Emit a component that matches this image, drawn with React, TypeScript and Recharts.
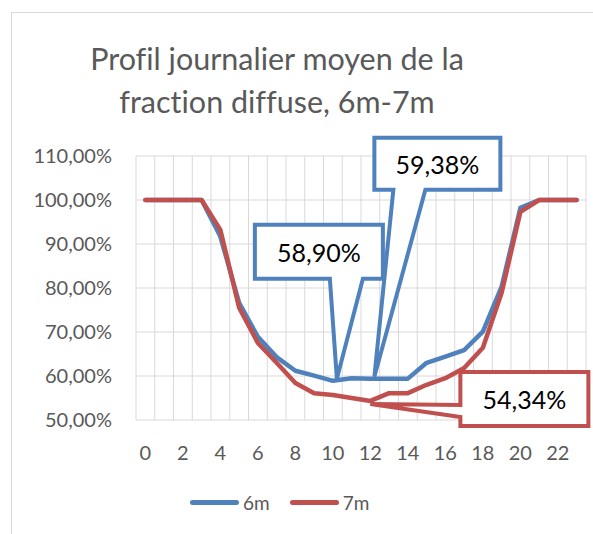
import { LineChart, Line, XAxis, YAxis, CartesianGrid, ReferenceLine, LabelList } from "recharts"

const hours = [0, 1, 2, 3, 4, 5, 6, 7, 8, 9, 10, 11, 12, 13, 14, 15, 16, 17, 18, 19, 20, 21, 22, 23]
const serie6m = [100, 100, 100, 100, 91.7, 76.6, 68.9, 64.3, 61.2, 60.1, 58.9, 59.5, 59.38, 59.4, 59.4, 63, 64.4, 65.9, 70.1, 80.3, 98.2, 100, 100, 100]
const serie7m = [100, 100, 100, 100, 93.2, 75.5, 67.5, 63, 58.4, 56.1, 55.7, 55, 54.34, 56.1, 56.1, 58, 59.5, 61.8, 66.4, 78.9, 97.3, 100, 100, 100]
const xTicks = [0, 2, 4, 6, 8, 10, 12, 14, 16, 18, 20, 22]
const yTicks = [50, 60, 70, 80, 90, 100, 110]
const seriesNames = ["6m", "7m"]
const seriesColors = ["#4F81BD", "#C0504D"]

const data = hours.map((h, i) => ({ hour: h, s6: serie6m[i], s7: serie7m[i] }))
// category boundaries for the vertical gridlines
const boundaries = [...hours.map((h) => h - 0.5), hours[hours.length - 1] + 0.5]

const FONT = "Lato, 'Open Sans', sans-serif"
const GREY = "#595959"

const fmt = (v: number) => `${v.toFixed(2).replace(".", ",")}%`

type Callout = {
  index: number
  box: [number, number, number, number] // x0, y0, x1, y1 relative to point
  base: [number, number]
  side: "bottom" | "left"
  tip: [number, number]
}

const callouts6m: Callout[] = [
  { index: 10, box: [-78, -156, 50, -102], base: [-3, 30], side: "bottom", tip: [4, -2] },
  { index: 12, box: [4, -241, 130, -189], base: [23, 55], side: "bottom", tip: [4, -2] },
]
const callouts7m: Callout[] = [
  { index: 12, box: [90, -29, 218, 25], base: [4, 16], side: "left", tip: [0, 3] },
]

function makeCallout(specs: Callout[], color: string) {
  return (props: any) => {
    const { x, y, index, value } = props
    const c = specs.find((s) => s.index === index)
    if (!c) return null
    const [x0, y0, x1, y1] = c.box.map((v, i) => (i % 2 === 0 ? x + v : y + v))
    const tx = x + c.tip[0]
    const ty = y + c.tip[1]
    let d = ""
    if (c.side === "bottom") {
      d = `M${x0},${y0} H${x1} V${y1} H${x + c.base[1]} L${tx},${ty} L${x + c.base[0]},${y1} H${x0} Z`
    } else {
      d = `M${x0},${y0} H${x1} V${y1} H${x0} V${y + c.base[1]} L${tx},${ty} L${x0},${y + c.base[0]} Z`
    }
    return (
      <g>
        <path d={d} fill="#fff" stroke={color} strokeWidth={4} strokeLinejoin="miter" />
        <text
          x={(x0 + x1) / 2}
          y={(y0 + y1) / 2}
          textAnchor="middle"
          dominantBaseline="central"
          fontFamily={FONT}
          fontSize={25}
          fill="#000"
        >
          {fmt(Number(value))}
        </text>
      </g>
    )
  }
}

export default function App() {
  return (
    <div style={{ position: "absolute", left: 0, top: 0, width: 593, height: 534, overflow: "hidden", background: "#fff" }}>
      <div
        style={{
          position: "absolute",
          left: 11,
          top: 12,
          width: 700,
          height: 700,
          border: "1px solid #d9d9d9",
        }}
      />
      <div
        style={{
          position: "absolute",
          left: 0,
          top: 37,
          width: 554,
          textAlign: "center",
          fontFamily: FONT,
          fontSize: 30.5,
          lineHeight: "43px",
          color: GREY,
          fontVariantLigatures: "none",
        }}
      >
        Profil journalier moyen de la
        <br />
        fraction diffuse, 6m-7m
      </div>
      <LineChart width={593} height={534} data={data} margin={{ top: 156, right: 7, bottom: 74, left: 0 }} style={{ position: "absolute", left: 0, top: 0 }}>
        <CartesianGrid vertical={false} stroke="#d9d9d9" strokeWidth={1} />
        {boundaries.map((b) => (
          <ReferenceLine key={b} x={b} stroke="#d9d9d9" strokeWidth={1} ifOverflow="visible" />
        ))}
        <XAxis
          dataKey="hour"
          type="number"
          domain={[-0.5, 23.5]}
          ticks={xTicks}
          height={40}
          axisLine={false}
          tickLine={false}
          tickSize={0}
          tickMargin={26}
          tick={{ fill: GREY, fontSize: 20, fontFamily: FONT }}
          allowDataOverflow
        />
        <YAxis
          domain={[50, 110]}
          ticks={yTicks}
          width={136}
          axisLine={false}
          tickLine={false}
          tickSize={0}
          tickMargin={24}
          tickFormatter={fmt}
          tick={{ fill: GREY, fontSize: 20, fontFamily: FONT }}
          allowDataOverflow
        />
        <Line
          dataKey="s6"
          stroke={seriesColors[0]}
          strokeWidth={4.5}
          strokeLinecap="round"
          strokeLinejoin="round"
          dot={false}
          isAnimationActive={false}
        >
          <LabelList dataKey="s6" content={makeCallout(callouts6m, seriesColors[0])} />
        </Line>
        <Line
          dataKey="s7"
          stroke={seriesColors[1]}
          strokeWidth={4.5}
          strokeLinecap="round"
          strokeLinejoin="round"
          dot={false}
          isAnimationActive={false}
        >
          <LabelList dataKey="s7" content={makeCallout(callouts7m, seriesColors[1])} />
        </Line>
      </LineChart>
      <div
        style={{
          position: "absolute",
          left: 190,
          top: 491,
          display: "flex",
          fontFamily: FONT,
          fontSize: 19,
          color: GREY,
          alignItems: "center",
        }}
      >
        {seriesNames.map((n, i) => (
          <div key={n} style={{ display: "flex", alignItems: "center", marginRight: 20 }}>
            <div style={{ width: 49, height: 5, borderRadius: 3, background: seriesColors[i], marginRight: 4 }} />
            <span>{n}</span>
          </div>
        ))}
      </div>
    </div>
  )
}
